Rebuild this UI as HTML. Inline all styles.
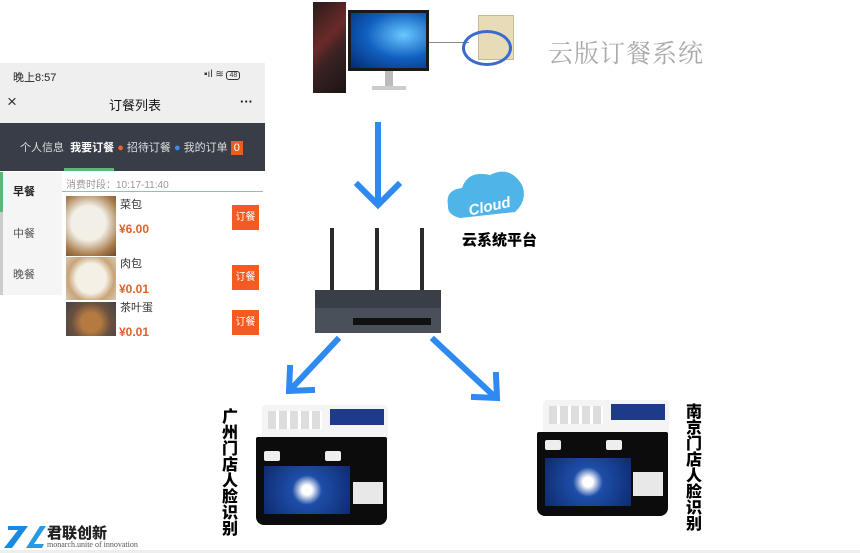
<!DOCTYPE html>
<html><head><meta charset="utf-8"><style>
*{margin:0;padding:0;box-sizing:border-box}
body{width:860px;height:553px;background:#fff;position:relative;overflow:hidden;font-family:"Liberation Sans","Noto Sans CJK SC",sans-serif}
.a{position:absolute}
.dev{position:absolute;width:134px;height:120px}
.vt{position:absolute;width:18px;font-weight:900;font-size:16px;line-height:16px;color:#000;text-align:center}
</style></head><body>
<!-- phone -->
<div class="a" style="left:0;top:63px;width:265px;height:60px;background:#efefef"></div>
<div class="a" style="left:13px;top:69px;font-size:11px;color:#222">晚上8:57</div>
<div class="a" style="left:204px;top:69px;font-size:10px;color:#333">▪ıl ≋ <span style="border:1px solid #333;border-radius:3px;font-size:7px;padding:0 2px">48</span></div>
<div class="a" style="left:7px;top:92px;font-size:17px;color:#333">×</div>
<div class="a" style="left:109px;top:95px;font-size:13px;color:#111">订餐列表</div>
<div class="a" style="left:240px;top:94px;font-size:13px;color:#111;font-weight:bold">···</div>
<div class="a" style="left:0;top:123px;width:265px;height:48px;background:#383d48"></div>
<div class="a" style="left:20px;top:139px;font-size:11px;color:#ddd;white-space:nowrap">个人信息 &nbsp;<b style="color:#fff">我要订餐</b> <span style="color:#f06030">●</span> 招待订餐 <span style="color:#3a8ee8">●</span> 我的订单 <span style="background:#f05a22;color:#fff;padding:1px 3px">0</span></div>
<div class="a" style="left:64px;top:168px;width:50px;height:3px;background:#5cb87a"></div>
<div class="a" style="left:0;top:172px;width:62px;height:123px;background:#f5f5f5"></div>
<div class="a" style="left:0;top:172px;width:3px;height:123px;background:#ccc"></div>
<div class="a" style="left:0;top:172px;width:3px;height:40px;background:#5cb87a"></div>
<div class="a" style="left:13px;top:183px;font-size:11px;color:#222;font-weight:bold">早餐</div>
<div class="a" style="left:13px;top:225px;font-size:11px;color:#555">中餐</div>
<div class="a" style="left:13px;top:266px;font-size:11px;color:#555">晚餐</div>
<div class="a" style="left:66px;top:176px;font-size:10px;color:#999">消费时段：10:17-11:40</div>
<div class="a" style="left:62px;top:191px;width:201px;height:1px;background:#9bb"></div>
<div class="a" style="left:66px;top:196px;width:50px;height:60px;background:radial-gradient(circle at 45% 45%,#f2efe6 40%,#a87c4c 75%,#6a4a2a)"></div>
<div class="a" style="left:66px;top:257px;width:50px;height:43px;background:radial-gradient(circle at 50% 50%,#f5f0e6 45%,#c9a47a 70%,#d8c8b0)"></div>
<div class="a" style="left:66px;top:302px;width:50px;height:34px;background:radial-gradient(circle at 50% 60%,#b47a40 30%,#6b5040 60%,#444)"></div>
<div class="a" style="left:120px;top:196px;font-size:11px;color:#333">菜包</div>
<div class="a" style="left:119px;top:222px;font-size:12px;color:#e0602a;font-weight:bold">¥6.00</div>
<div class="a" style="left:120px;top:255px;font-size:11px;color:#333">肉包</div>
<div class="a" style="left:119px;top:282px;font-size:12px;color:#e0602a;font-weight:bold">¥0.01</div>
<div class="a" style="left:120px;top:299px;font-size:11px;color:#333">茶叶蛋</div>
<div class="a" style="left:119px;top:325px;font-size:12px;color:#e0602a;font-weight:bold">¥0.01</div>
<div class="a" style="left:232px;top:205px;width:27px;height:25px;background:#f45a22;color:#fff;font-size:10px;line-height:25px;text-align:center">订餐</div>
<div class="a" style="left:232px;top:265px;width:27px;height:25px;background:#f45a22;color:#fff;font-size:10px;line-height:25px;text-align:center">订餐</div>
<div class="a" style="left:232px;top:310px;width:27px;height:25px;background:#f45a22;color:#fff;font-size:10px;line-height:25px;text-align:center">订餐</div>

<!-- computer -->
<div class="a" style="left:313px;top:2px;width:33px;height:91px;background:linear-gradient(135deg,#2a1a1a,#6a2a2a 40%,#3a2222 60%,#1a1414)"></div>
<div class="a" style="left:348px;top:10px;width:81px;height:61px;background:#1a1a1a;padding:3px"><div style="width:100%;height:100%;background:radial-gradient(ellipse at 70% 40%,#6ac8ff,#1060c0 50%,#052a70)"></div></div>
<div class="a" style="left:385px;top:71px;width:8px;height:15px;background:#bbb"></div>
<div class="a" style="left:372px;top:86px;width:34px;height:4px;background:#ccc"></div>
<div class="a" style="left:429px;top:42px;width:40px;height:1px;background:#888"></div>
<div class="a" style="left:478px;top:15px;width:36px;height:45px;background:#e8dcb8;border:1px solid #c8b890"></div>
<div class="a" style="left:462px;top:30px;width:50px;height:36px;border:3px solid #3a6acc;border-radius:50%"></div>
<div class="a" style="left:548px;top:34px;font-size:25px;color:#aaa;letter-spacing:1px;font-family:'Noto Serif CJK SC',serif">云版订餐系统</div>

<svg class="a" style="left:0;top:0" width="860" height="553">
<g stroke="#2e8af0" stroke-width="6" fill="none" stroke-linecap="square">
<line x1="378" y1="125" x2="378" y2="203"/>
<polyline points="358,185 378,205 398,185"/>
<line x1="337" y1="340" x2="292" y2="388"/>
<polyline points="290,368 289,391 312,390"/>
<line x1="434" y1="340" x2="494" y2="396"/>
<polyline points="474,397 497,398 496,375"/>
</g>
<path d="M448 205 Q445 190 462 188 Q468 170 490 175 Q510 165 522 185 Q528 200 515 212 L460 218 Q447 215 448 205Z" fill="#4fb4e8"/>
<text x="468" y="211" fill="#fff" font-size="15" font-weight="bold" font-style="italic" font-family="Liberation Sans" transform="rotate(-12 490 205)">Cloud</text>
<g fill="#2a2a2a"><rect x="330" y="228" width="4" height="64"/><rect x="375" y="228" width="4" height="64"/><rect x="420" y="228" width="4" height="64"/></g>
<rect x="315" y="290" width="126" height="43" fill="#3a3e46"/>
<rect x="315" y="308" width="126" height="25" fill="#4a505a"/>
<g fill="#111"><rect x="353" y="318" width="78" height="7"/></g>
<path d="M8 526 L28 526 L12 548 L4 548 L18 530 L8 530Z" fill="#1a8ae0"/>
<path d="M26 548 L40 526 L46 526 L34 544 L44 544 L42 548Z" fill="#2a9ae0"/>
</svg>
<div class="a" style="left:462px;top:229px;font-size:15px;font-weight:900;color:#000">云系统平台</div>

<!-- devices -->
<div class="dev" style="left:256px;top:405px">
 <div class="a" style="left:6px;top:0;width:126px;height:34px;background:#f4f4f4;border-radius:4px 4px 0 0"></div>
 <div class="a" style="left:12px;top:6px;width:54px;height:18px;background:repeating-linear-gradient(90deg,#ddd 0 8px,#fff 8px 11px)"></div>
 <div class="a" style="left:74px;top:4px;width:54px;height:16px;background:#1e3a8a"></div>
 <div class="a" style="left:0;top:32px;width:131px;height:88px;background:#0c0c0c;border-radius:2px 2px 8px 8px"></div>
 <div class="a" style="left:8px;top:46px;width:16px;height:10px;background:#eee;border-radius:2px"></div>
 <div class="a" style="left:69px;top:46px;width:16px;height:10px;background:#eee;border-radius:2px"></div>
 <div class="a" style="left:8px;top:61px;width:86px;height:48px;background:radial-gradient(circle at 50% 50%,#fff 10%,#1e4ea8 30%,#0e2a70)"></div>
 <div class="a" style="left:97px;top:77px;width:30px;height:22px;background:#e8e8e8"></div>
</div>
<div class="dev" style="left:537px;top:400px">
 <div class="a" style="left:6px;top:0;width:126px;height:34px;background:#f4f4f4;border-radius:4px 4px 0 0"></div>
 <div class="a" style="left:12px;top:6px;width:54px;height:18px;background:repeating-linear-gradient(90deg,#ddd 0 8px,#fff 8px 11px)"></div>
 <div class="a" style="left:74px;top:4px;width:54px;height:16px;background:#1e3a8a"></div>
 <div class="a" style="left:0;top:32px;width:131px;height:84px;background:#0c0c0c;border-radius:2px 2px 8px 8px"></div>
 <div class="a" style="left:8px;top:40px;width:16px;height:10px;background:#eee;border-radius:2px"></div>
 <div class="a" style="left:69px;top:40px;width:16px;height:10px;background:#eee;border-radius:2px"></div>
 <div class="a" style="left:8px;top:58px;width:86px;height:48px;background:radial-gradient(circle at 50% 50%,#fff 10%,#1e4ea8 30%,#0e2a70)"></div>
 <div class="a" style="left:96px;top:72px;width:30px;height:24px;background:#e8e8e8"></div>
</div>
<div class="vt" style="left:221px;top:410px">广州门店人脸识别</div>
<div class="vt" style="left:685px;top:405px">南京门店人脸识别</div>

<div class="a" style="left:47px;top:522px;font-size:15px;font-weight:900;color:#222">君联创新</div>
<div class="a" style="left:47px;top:540px;font-size:8px;color:#555;font-family:'Liberation Serif',serif">monarch.unite of innovation</div>
<div class="a" style="left:0;top:550px;width:860px;height:3px;background:#eee"></div>
</body></html>
